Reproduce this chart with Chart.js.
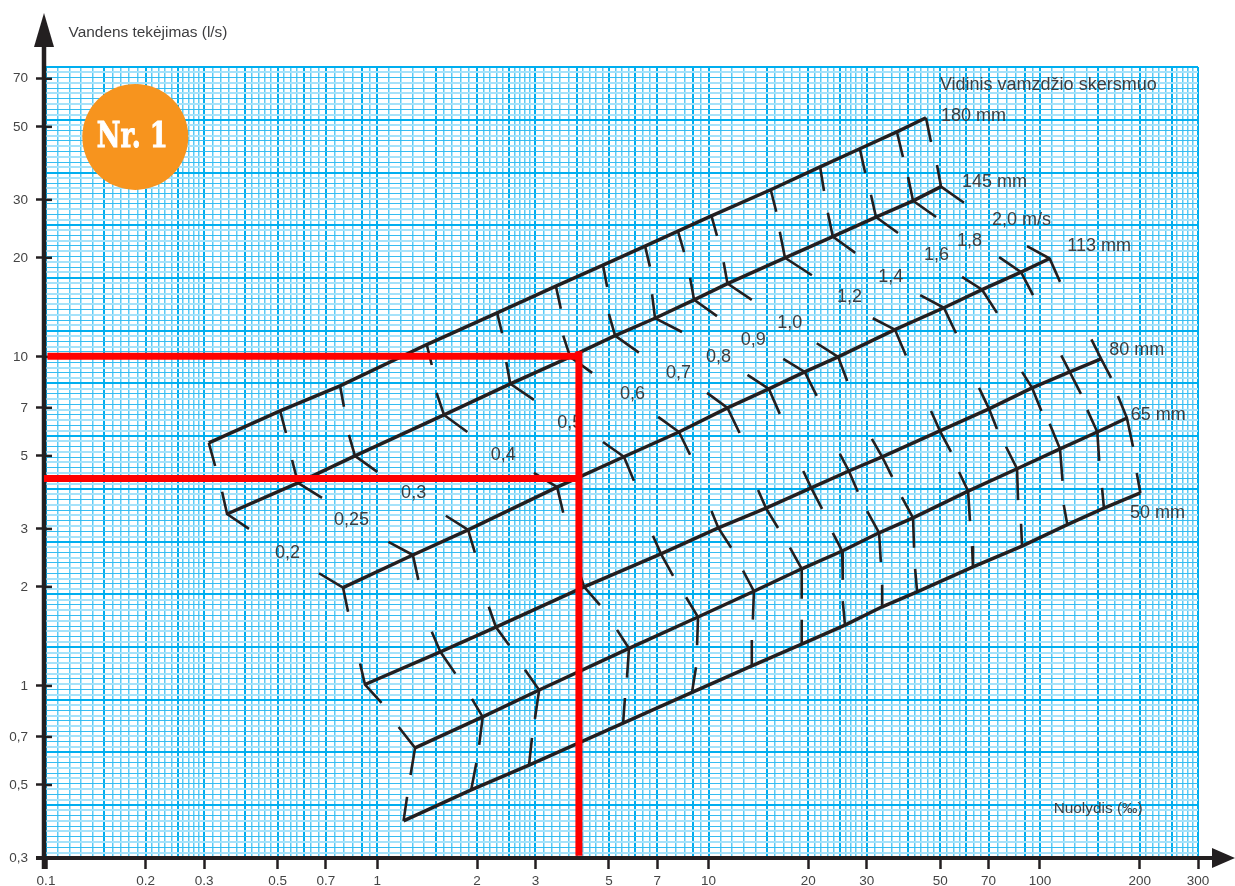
<!doctype html>
<html><head><meta charset="utf-8"><style>html,body{margin:0;background:#fff}canvas{display:block}</style>
<script src="https://cdn.jsdelivr.net/npm/chart.js@4"></script></head><body>
<canvas id="c" width="1235" height="886"></canvas>
<script>
// Axis ticks
const xTickValues=[0.1,0.2,0.3,0.5,0.7,1,2,3,5,7,10,20,30,50,70,100,200,300];
const xTickLabels=['0.1','0.2','0.3','0.5','0.7','1','2','3','5','7','10','20','30','50','70','100','200','300'];
const yTickValues=[0.3,0.5,0.7,1,2,3,5,7,10,20,30,50,70];
const yTickLabels=['0,3','0,5','0,7','1','2','3','5','7','10','20','30','50','70'];
// Graph-paper rulings
const paperDecades=[0.1,1,10,100];
const paperMantissas=[1,1.5,2,2.5,3,4,5,6,7,9];
const paperParts=[5,5,5,5,5,5,4,3,4,2];
const paperYMain=[0.3,0.435,0.63,0.906,1.31,1.90,2.74,3.97,5.75,8.3,12.0,17.4,25.2,36.3,52.5,76];
// Pipes: slope (x), flow (y), velocity-whisker ends
const slope180=[0.310,0.509,0.772,1.41,2.30,3.46,4.80,6.43,8.08,10.2,15.4,21.7,28.6,37.0,45.3];
const flow180=[5.48,6.85,8.16,10.9,13.6,16.4,19.0,21.7,24.1,26.8,32.2,37.8,42.9,48.3,53.3];
const low180x=[0.324,0.530,0.793,1.46,2.38,3.58,4.94,6.65,8.43,10.6,16.0,22.3,29.7,38.6,46.9];
const low180y=[4.66,5.87,7.05,9.45,11.8,14.0,16.3,18.8,20.8,23.3,27.6,31.9,36.2,40.5,45.0];
const slope145=[0.352,0.576,0.856,1.59,2.52,3.82,5.22,6.89,9.04,11.4,17.0,23.7,32.0,41.4,50.3];
const flow145=[3.33,4.14,5.00,6.66,8.28,10.0,11.6,13.1,14.9,16.7,20.0,23.2,26.6,29.8,32.9];
const up145x=[0.340,0.553,0.821,1.51,2.45,3.64,5.00,6.75,8.79,11.1,16.4,22.9,30.9,40.0,48.9];
const up145y=[3.89,4.86,5.79,7.77,9.65,11.6,13.5,15.5,17.4,19.4,24.0,27.4,31.1,35.2,38.3];
const low145x=[0.410,0.681,1.00,1.87,2.97,4.45,6.16,8.31,10.6,13.5,20.5,27.7,37.3,48.6,59.0];
const low145y=[3.00,3.73,4.47,5.91,7.40,8.94,10.3,11.9,13.3,14.9,17.7,20.7,23.8,26.6,29.4];
const slope113=[0.788,1.28,1.88,3.49,5.55,8.14,11.4,15.2,19.5,24.6,36.5,51.3,66.9,87.7,107];
const flow113=[1.99,2.50,2.98,4.02,4.97,5.91,7.00,7.99,9.00,10.0,12.1,14.1,16.0,18.1,19.9];
const up113x=[0.667,1.08,1.61,2.97,4.80,7.04,9.89,13.1,16.8,21.2,31.3,43.5,58.2,75.3,91.4];
const up113y=[2.20,2.74,3.29,4.44,5.51,6.57,7.77,8.81,9.86,11.0,13.1,15.4,17.5,20.1,21.7];
const low113x=[0.816,1.33,1.97,3.64,5.95,8.79,12.4,16.4,21.2,26.2,39.4,55.8,74.2,95.3,115];
const low113y=[1.68,2.10,2.54,3.36,4.20,5.04,5.87,6.71,7.61,8.45,10.1,11.8,13.6,15.4,16.9];
const slope80=[0.918,1.55,2.28,4.21,7.18,10.7,14.9,20.4,26.5,33.4,49.9,70.2,94.7,123,153];
const flow80=[1.01,1.27,1.51,2.00,2.52,3.02,3.47,4.00,4.50,4.97,5.96,6.95,8.05,9.00,9.86];
const up80x=[0.887,1.46,2.17,4.01,6.79,10.2,14.1,19.3,24.9,31.1,46.9,65.5,88.3,116,143];
const up80y=[1.17,1.46,1.74,2.32,2.86,3.40,3.94,4.50,5.07,5.63,6.85,8.05,9.00,10.1,11.3];
const low80x=[1.03,1.72,2.50,4.70,7.81,11.7,16.2,22.0,28.2,35.8,53.9,74.2,101,133,164];
const low80y=[0.888,1.09,1.33,1.76,2.16,2.63,3.02,3.45,3.89,4.32,5.14,6.04,6.85,7.72,8.63];
const slope65=[1.30,2.08,3.08,5.75,9.29,13.7,19.1,25.3,32.7,41.4,60.7,85.3,115,149,183];
const flow65=[0.648,0.805,0.972,1.30,1.62,1.94,2.27,2.57,2.92,3.24,3.91,4.57,5.25,5.91,6.52];
const up65x=[1.16,1.93,2.79,5.29,8.55,12.7,17.6,23.7,30.1,38.3,57.0,79.0,107,139,172];
const up65y=[0.750,0.913,1.12,1.48,1.86,2.24,2.63,2.92,3.40,3.75,4.47,5.33,6.26,6.90,7.61];
const low65x=[1.26,2.03,2.99,5.67,9.23,13.6,19.1,25.4,33.1,41.7,61.5,85.9,117,151,191];
const low65y=[0.536,0.662,0.794,1.06,1.33,1.59,1.84,2.10,2.38,2.63,3.17,3.67,4.20,4.83,5.33];
const slope50=[1.20,1.92,2.87,5.52,8.91,13.5,19.1,25.8,33.4,42.6,62.8,88.3,121,156,201];
const flow50=[0.389,0.483,0.575,0.771,0.956,1.15,1.34,1.53,1.74,1.93,2.30,2.66,3.09,3.47,3.86];
const up50x=[1.23,1.99,2.93,5.59,9.16,13.5,19.1,25.4,33.4,42.0,62.4,87.7,118,154,196];
const up50y=[0.460,0.583,0.695,0.919,1.14,1.38,1.59,1.81,2.03,2.27,2.66,3.11,3.55,4.00,4.44];
// Red reading lines
const readSlope=4.06;
const readFlows=[10.05,4.27];
const readStarts=[0.101,0.0986];
const readTop=10.4, readBottom=0.305;
// Badge
const badgeX=0.186, badgeY=46.6, badgeText='Nr. 1';
// Annotations: text, slope anchor, flow anchor
const noteTexts=['Vandens tekėjimas (l/s)','Nuolydis (‰)','Vidinis vamzdžio skersmuo','180 mm','145 mm','113 mm','80 mm','65 mm','50 mm','2,0 m/s','1,8','1,6','1,4','1,2','1,0','0,9','0,8','0,7','0,6','0,5','0,4','0,3','0,25','0,2'];
const noteX=[0.117,110,49.9,50.3,58.2,121,162,188,187,71.7,56.2,44.7,32.5,24.4,16.1,12.5,9.82,7.44,5.40,3.49,2.20,1.18,0.740,0.491];
const noteY=[97.9,0.429,67.6,54.4,34.3,21.9,10.6,6.71,3.40,26.4,22.8,20.6,17.7,15.4,12.8,11.4,10.1,9.00,7.77,6.34,5.07,3.89,3.22,2.57];

const ink='#231f20', cyan='#00aeef';
const zip=(xs,ys)=>xs.map((x,i)=>({x,y:ys[i]}));
const gap={x:NaN,y:NaN};
function whiskers(jx,jy,ux,uy,lx,ly){
  const pts=[];
  jx.forEach((x,i)=>{
    if(ux) pts.push({x:ux[i],y:uy[i]});
    pts.push({x,y:jy[i]});
    if(lx) pts.push({x:lx[i],y:ly[i]});
    pts.push(gap);
  });
  return pts;
}
const lineDs=(data,w,color=ink,extra={})=>Object.assign({data,showLine:true,borderColor:color,borderWidth:w,pointRadius:0,fill:false,tension:0,borderCapStyle:'butt',borderJoinStyle:'miter'},extra);
const red='#ff0000';
const pipes=[
 [slope180,flow180,null,null,low180x,low180y],
 [slope145,flow145,up145x,up145y,low145x,low145y],
 [slope113,flow113,up113x,up113y,low113x,low113y],
 [slope80,flow80,up80x,up80y,low80x,low80y],
 [slope65,flow65,up65x,up65y,low65x,low65y],
 [slope50,flow50,up50x,up50y,null,null]
];
const datasets=[
 lineDs([{x:readSlope,y:readTop},{x:readSlope,y:readBottom}],7,red,{clip:false}),
 lineDs([{x:readStarts[0],y:readFlows[0]},{x:readSlope,y:readFlows[0]}],7,red,{clip:false}),
 lineDs([{x:readStarts[1],y:readFlows[1]},{x:readSlope,y:readFlows[1]}],7,red,{clip:false}),
];
pipes.forEach(p=>{
  datasets.push(lineDs(zip(p[0],p[1]),3.5));
  datasets.push(lineDs(whiskers(...p),2.6));
});
datasets.push({data:[{x:badgeX,y:badgeY}],showLine:false,pointRadius:53,pointHoverRadius:53,pointBackgroundColor:'#f7941e',pointBorderWidth:0});

// Paper rulings: main lines plus even log subdivisions between them
const xGridTicks=[];
paperDecades.forEach(d=>paperMantissas.forEach((m,i)=>{
  const a=d*m, b=d*(i+1<paperMantissas.length?paperMantissas[i+1]:10);
  if(a>300.01) return;
  xGridTicks.push({value:a,cls:'s'});
  if(a>=299.99) return;
  for(let k=1;k<paperParts[i];k++) xGridTicks.push({value:a*Math.pow(b/a,k/paperParts[i]),cls:'m'});
}));
const yGridTicks=[];
paperYMain.forEach((v,i)=>{
  yGridTicks.push({value:v,cls:'s'});
  if(i+1<paperYMain.length) for(let k=1;k<10;k++) yGridTicks.push({value:v*Math.pow(paperYMain[i+1]/v,k/10),cls:k%2?'l':'m'});
});

const decor={
 id:'decor',
 beforeDatasetsDraw(ch){
  const c=ch.ctx,sx=ch.scales.x,sy=ch.scales.y,a=ch.chartArea;
  c.save();
  c.textAlign='left';c.textBaseline='middle';c.fillStyle='#3d3d3f';
  noteTexts.forEach((t,i)=>{
    c.font=(i<2?'15.4px':'18px')+' "Liberation Sans"';
    c.fillText(t,sx.getPixelForValue(noteX[i]),sy.getPixelForValue(noteY[i])+1.5);
  });
  c.strokeStyle=ink;c.fillStyle=ink;c.lineCap='butt';
  c.lineWidth=4.5;c.beginPath();c.moveTo(a.left-2,a.bottom+11);c.lineTo(a.left-2,a.top-21);c.stroke();
  c.lineWidth=4;c.beginPath();c.moveTo(a.left-10,a.bottom);c.lineTo(a.right+15,a.bottom);c.stroke();
  c.beginPath();c.moveTo(a.left-2,13);c.lineTo(a.left-12,47);c.lineTo(a.left+8,47);c.closePath();c.fill();
  c.beginPath();c.moveTo(1235,a.bottom);c.lineTo(a.right+14,a.bottom-10);c.lineTo(a.right+14,a.bottom+10);c.closePath();c.fill();
  c.lineWidth=2.5;
  sy.ticks.forEach(t=>{const p=sy.getPixelForValue(t.value);c.beginPath();c.moveTo(a.left-2,p);c.lineTo(a.left+6,p);c.stroke();});
  c.restore();
 },
 afterDatasetsDraw(ch){
  const c=ch.ctx,sx=ch.scales.x,sy=ch.scales.y;
  c.save();c.fillStyle='#fff';c.strokeStyle='#fff';c.lineWidth=1;c.textAlign='center';c.textBaseline='middle';
  c.font='bold 36px "DejaVu Serif"';
  const px=sx.getPixelForValue(badgeX)-3,py=sy.getPixelForValue(badgeY)+1;
  c.fillText(badgeText,px,py,71);c.strokeText(badgeText,px,py,71);
  c.restore();
 }
};
const fixedTicks=(list)=>function(s){s.ticks=list.map(t=>typeof t==='number'?{value:t}:{value:t.value,cls:t.cls});};
new Chart(document.getElementById('c'),{
 type:'scatter',
 data:{datasets},
 plugins:[decor],
 options:{
  responsive:false,animation:false,
  layout:{autoPadding:false,padding:{top:67,right:37,left:0,bottom:0}},
  plugins:{legend:{display:false},tooltip:{enabled:false},title:{display:false}},
  events:[],
  scales:{
   xg:{type:'logarithmic',axis:'x',position:'bottom',min:0.1,max:300,afterBuildTicks:fixedTicks(xGridTicks),afterFit(s){s.height=0;},
     border:{display:false},ticks:{display:false,autoSkip:false},
     grid:{drawTicks:false,color:c=>c.tick&&c.tick.cls==='s'?cyan:'#5ccbf6',lineWidth:c=>c.tick&&c.tick.cls==='s'?2:1.5}},
   yg:{type:'logarithmic',axis:'y',position:'left',min:0.3,max:76,afterBuildTicks:fixedTicks(yGridTicks),afterFit(s){s.width=0;},
     border:{display:false},ticks:{display:false,autoSkip:false},
     grid:{drawTicks:false,color:c=>{const k=c.tick&&c.tick.cls;return k==='s'?cyan:k==='m'?'#35bcf1':'#a6e2fa';},lineWidth:c=>{const k=c.tick&&c.tick.cls;return k==='s'?2:k==='m'?1:2;}}},
   x:{type:'logarithmic',position:'bottom',min:0.1,max:300,afterBuildTicks:fixedTicks(xTickValues),afterFit(s){s.height=28;},
     border:{display:false},
     grid:{drawOnChartArea:false,drawTicks:true,tickLength:11,tickWidth:2.5,tickColor:ink,color:ink},
     ticks:{autoSkip:false,maxRotation:0,minRotation:0,padding:4,color:'#444',font:{family:'"Liberation Sans"',size:13.5},callback:(v,i)=>xTickLabels[i]}},
   y:{type:'logarithmic',position:'left',min:0.3,max:76,afterBuildTicks:fixedTicks(yTickValues),afterFit(s){s.width=46;},
     border:{display:false},
     grid:{drawOnChartArea:false,drawTicks:true,tickLength:10,tickWidth:2.5,tickColor:ink,color:ink},
     ticks:{autoSkip:false,padding:8,color:'#444',font:{family:'"Liberation Sans"',size:13.5},callback:(v,i)=>yTickLabels[i]}}
  }
 }
});
</script></body></html>
